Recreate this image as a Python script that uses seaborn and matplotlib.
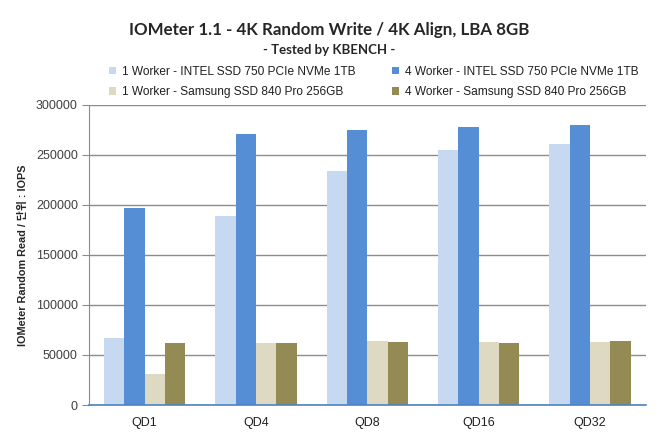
import matplotlib
matplotlib.use("Agg")
import matplotlib.pyplot as plt
import seaborn as sns
import pandas as pd
from matplotlib.patches import Patch

categories = ["QD1", "QD4", "QD8", "QD16", "QD32"]
series_names = [
    "1 Worker - INTEL SSD 750 PCIe NVMe 1TB",
    "4 Worker - INTEL SSD 750 PCIe NVMe 1TB",
    "1 Worker - Samsung SSD 840 Pro 256GB",
    "4 Worker - Samsung SSD 840 Pro 256GB",
]
intel_1w = [67000, 189000, 234000, 255000, 261000]
intel_4w = [197000, 271000, 275000, 278000, 280000]
samsung_1w = [31000, 62000, 64000, 63000, 63000]
samsung_4w = [62000, 62000, 63000, 62000, 64000]
colors = ["#C6D9F1", "#558ED5", "#DDD9C3", "#948A54"]

rows = []
for name, vals in zip(series_names, [intel_1w, intel_4w, samsung_1w, samsung_4w]):
    for c, v in zip(categories, vals):
        rows.append({"QD": c, "series": name, "IOPS": v})
df = pd.DataFrame(rows)

sns.set_style("white")
plt.rcParams["font.family"] = ["Liberation Sans", "Noto Sans CJK KR", "DejaVu Sans"]

fig = plt.figure(figsize=(6.59, 4.32), dpi=100)
ax = fig.add_axes([0.135, 0.0625, 0.845, 0.695])

sns.barplot(data=df, x="QD", y="IOPS", hue="series", hue_order=series_names,
            order=categories, palette=colors, width=0.73, gap=0, saturation=1,
            edgecolor="none", linewidth=0, ax=ax, legend=False, errorbar=None)

ax.set_ylim(0, 300000)
ax.set_yticks(range(0, 300001, 50000))
ax.yaxis.grid(True, color="#8C8C8C", linewidth=1.0)
ax.set_axisbelow(True)
for s in ["top", "right"]:
    ax.spines[s].set_visible(False)
ax.spines["left"].set_color("#8C8C8C")
ax.spines["bottom"].set_color("#4F81BD")
ax.spines["bottom"].set_linewidth(1.2)
ax.tick_params(axis="y", left=True, length=5, color="#8C8C8C", labelsize=9, labelcolor="#404040", pad=3)
ax.tick_params(axis="x", bottom=False, labelsize=9, labelcolor="#202020", pad=5)
ax.set_xlabel("")
ax.set_ylabel("IOMeter Random Read / 단위 : IOPS", fontsize=7.8, fontweight="bold",
              family=["Liberation Sans", "Noto Sans CJK KR"], labelpad=6)

fig.text(0.499, 1 - 30 / 432, "IOMeter 1.1 - 4K Random Write / 4K Align, LBA 8GB",
         ha="center", va="center", fontsize=12.2, fontweight="bold", family=["Lato", "DejaVu Sans"])
fig.text(0.5, 1 - 50 / 432, "- Tested by KBENCH -", ha="center", va="center",
         fontsize=9.5, fontweight="bold", family=["Lato", "DejaVu Sans"])

order = [0, 2, 1, 3]
handles = [Patch(facecolor=colors[i], edgecolor="none") for i in order]
labels = [series_names[i] for i in order]
leg = fig.legend(handles, labels, loc="center", bbox_to_anchor=(0.567, 1 - 82 / 432),
                 ncol=2, frameon=False, fontsize=8.6, handlelength=0.6, handleheight=0.6,
                 handletextpad=0.5, columnspacing=3.0, labelspacing=0.75,
                 borderpad=0, borderaxespad=0)
for t in leg.get_texts():
    t.set_color("#202020")

fig.savefig("out.png", dpi=100)
